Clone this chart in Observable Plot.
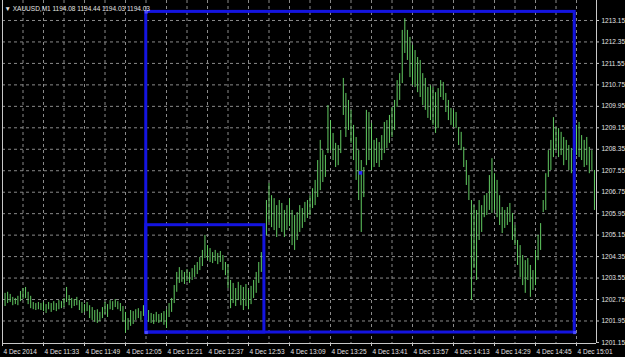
<!DOCTYPE html>
<html>
<head>
<meta charset="utf-8">
<script src="https://cdn.jsdelivr.net/npm/d3@7"></script>
<script src="https://cdn.jsdelivr.net/npm/@observablehq/plot@0.6"></script>
<style>
  html, body { margin: 0; padding: 0; background: #000; }
  svg { display: block; }
</style>
</head>
<body>
<div id="chart"></div>
<script>
// ---- data (XAUUSD, M1, 4 Dec 2014) ----
const headerText = "\u25BC XAUUSD,M1 1194.08 1194.44 1194.03 1194.03";
const startMinute = 677; // 11:17, minutes since midnight of the first bar

const highs = [
  1202.90, 1202.98, 1203.02, 1202.94, 1202.83, 1202.79, 1202.87, 1203.05, 1203.16, 1203.20,
  1203.02, 1202.87, 1202.64, 1202.60, 1202.64, 1202.60, 1202.64, 1202.56, 1202.64, 1202.60,
  1202.67, 1202.60, 1202.71, 1202.67, 1202.79, 1203.20, 1202.90, 1202.79, 1202.75, 1202.83,
  1202.71, 1202.64, 1202.56, 1202.64, 1202.52, 1202.45, 1202.34, 1202.37, 1202.27, 1202.45,
  1202.64, 1202.56, 1202.71, 1202.67, 1202.75, 1202.67, 1202.60, 1202.49, 1202.27, 1202.04,
  1202.34, 1202.30, 1202.37, 1202.41, 1202.30, 1202.52, 1202.60, 1202.34, 1202.23, 1202.19,
  1202.27, 1202.19, 1202.23, 1202.30, 1202.37, 1202.60, 1202.79, 1203.27, 1203.76, 1203.94,
  1203.83, 1203.76, 1203.87, 1203.76, 1203.90, 1204.02, 1204.13, 1204.32, 1204.58, 1205.14,
  1204.76, 1204.65, 1204.50, 1204.58, 1204.47, 1204.54, 1204.39, 1204.13, 1204.05, 1203.46,
  1203.35, 1203.16, 1203.39, 1203.27, 1203.20, 1203.31, 1203.09, 1203.24, 1203.46, 1203.76,
  1204.13, 1204.50, 1204.84, 1206.44, 1207.08, 1206.62, 1206.51, 1206.25, 1206.44, 1206.33,
  1206.07, 1206.25, 1206.51, 1206.07, 1205.88, 1205.99, 1206.25, 1206.14, 1206.37, 1206.44,
  1206.62, 1206.88, 1207.19, 1207.93, 1208.68, 1208.30, 1208.12, 1209.98, 1209.42, 1208.94,
  1208.57, 1208.49, 1209.05, 1210.99, 1210.43, 1210.17, 1209.80, 1209.24, 1208.79, 1208.30,
  1207.93, 1207.67, 1209.80, 1209.72, 1209.31, 1208.68, 1208.75, 1208.60, 1208.86, 1209.35,
  1209.42, 1209.61, 1209.91, 1210.17, 1210.91, 1211.17, 1212.78, 1213.22, 1212.78, 1212.52,
  1212.22, 1212.03, 1211.77, 1211.66, 1211.17, 1210.99, 1210.65, 1210.72, 1210.65, 1210.46,
  1210.61, 1210.91, 1210.84, 1210.43, 1210.17, 1209.87, 1209.80, 1209.72, 1209.16, 1208.98,
  1208.42, 1207.93, 1207.37, 1206.44, 1206.25, 1206.07, 1206.44, 1206.25, 1206.62, 1206.70,
  1207.37, 1208.00, 1207.44, 1207.19, 1206.62, 1206.18, 1206.07, 1206.18, 1206.33, 1205.96,
  1205.51, 1204.95, 1204.76, 1204.39, 1204.20, 1204.28, 1204.02, 1203.83, 1204.58, 1205.14,
  1205.58, 1206.44, 1207.44, 1208.30, 1208.68, 1209.53, 1209.16, 1209.12, 1208.98, 1208.79,
  1208.68, 1208.49, 1208.38, 1208.30, 1209.24, 1209.35, 1208.86, 1208.68, 1208.79, 1208.42,
  1208.30, 1207.56
];

const lows = [
  1202.45, 1202.49, 1202.60, 1202.64, 1202.52, 1202.56, 1202.52, 1202.67, 1202.75, 1202.79,
  1202.56, 1202.41, 1202.37, 1202.34, 1202.37, 1202.34, 1202.30, 1202.23, 1202.37, 1202.27,
  1202.34, 1202.30, 1202.37, 1202.41, 1202.45, 1202.64, 1202.52, 1202.41, 1202.49, 1202.52,
  1202.34, 1202.23, 1202.27, 1202.30, 1202.04, 1201.97, 1201.90, 1201.86, 1201.93, 1202.04,
  1202.19, 1202.08, 1202.37, 1202.34, 1202.45, 1202.37, 1202.30, 1201.90, 1201.49, 1201.60,
  1201.75, 1201.82, 1201.97, 1202.04, 1201.97, 1202.12, 1202.08, 1201.90, 1201.86, 1201.82,
  1201.90, 1201.86, 1201.90, 1201.79, 1201.67, 1202.08, 1202.27, 1202.60, 1203.02, 1203.35,
  1203.39, 1203.31, 1203.42, 1203.35, 1203.46, 1203.57, 1203.68, 1203.83, 1203.98, 1204.28,
  1204.20, 1204.13, 1204.09, 1204.17, 1204.05, 1204.13, 1203.83, 1203.64, 1203.16, 1202.41,
  1202.60, 1202.49, 1202.71, 1202.52, 1202.34, 1202.49, 1202.37, 1202.56, 1202.79, 1202.98,
  1203.35, 1203.76, 1203.98, 1205.13, 1205.62, 1205.43, 1205.32, 1205.06, 1205.40, 1205.25,
  1205.06, 1205.32, 1205.47, 1204.76, 1204.58, 1204.95, 1205.25, 1205.40, 1205.62, 1205.77,
  1205.88, 1206.14, 1206.25, 1206.55, 1206.81, 1207.11, 1207.30, 1208.19, 1208.30, 1207.93,
  1207.67, 1207.74, 1208.19, 1209.61, 1208.79, 1209.05, 1208.57, 1207.93, 1207.19, 1206.44,
  1205.25, 1206.55, 1207.74, 1207.93, 1207.56, 1207.67, 1207.82, 1207.67, 1207.93, 1208.19,
  1208.38, 1208.57, 1208.79, 1209.05, 1209.91, 1210.17, 1210.80, 1211.92, 1211.66, 1211.02,
  1210.72, 1210.65, 1210.46, 1210.28, 1209.98, 1209.80, 1209.50, 1209.42, 1209.24, 1208.94,
  1209.12, 1210.28, 1210.17, 1209.72, 1209.42, 1209.24, 1209.16, 1209.12, 1208.49, 1208.30,
  1207.67, 1207.00, 1206.44, 1202.71, 1203.91, 1203.46, 1204.95, 1205.25, 1205.80, 1205.88,
  1206.07, 1205.96, 1206.07, 1205.80, 1205.51, 1205.21, 1205.40, 1205.51, 1205.62, 1204.95,
  1204.76, 1204.02, 1203.57, 1203.27, 1202.98, 1203.46, 1202.83, 1203.09, 1203.27, 1204.20,
  1204.58, 1205.99, 1206.07, 1207.30, 1207.56, 1208.04, 1208.30, 1208.04, 1208.12, 1207.74,
  1207.93, 1207.56, 1207.44, 1207.37, 1208.12, 1208.04, 1207.93, 1207.67, 1207.74, 1207.44,
  1207.56, 1206.07
];

// x axis (minutes since midnight) and labels
const xTickMinutes = [677, 693, 709, 725, 741, 757, 773, 789, 805, 821, 837, 853, 869, 885, 901];
const xTickLabels = ["4 Dec 2014", "4 Dec 11:33", "4 Dec 11:49", "4 Dec 12:05", "4 Dec 12:21",
  "4 Dec 12:37", "4 Dec 12:53", "4 Dec 13:09", "4 Dec 13:25", "4 Dec 13:41", "4 Dec 13:57",
  "4 Dec 14:13", "4 Dec 14:29", "4 Dec 14:45", "4 Dec 15:01"];
const xGridMinutes = [685, 693, 701, 709, 717, 725, 733, 741, 749, 757, 765, 773, 781, 789, 797,
  805, 813, 821, 829, 837, 845, 853, 861, 869, 877, 885, 893, 901];

// y axis (price)
const yTickValues = [1213.15, 1212.35, 1211.55, 1210.75, 1209.95, 1209.15, 1208.35, 1207.55,
  1206.75, 1205.95, 1205.15, 1204.35, 1203.55, 1202.75, 1201.95, 1201.15];
const yTickLabels = ["1213.15", "1212.35", "1211.55", "1210.75", "1209.95", "1209.15", "1208.35",
  "1207.55", "1206.75", "1205.95", "1205.15", "1204.35", "1203.55", "1202.75", "1201.95", "1201.15"];

const xDomain = [677, 908.8];
const yDomain = [1201.111, 1213.895];

// drawn objects: rectangles (time in minutes, price)
const rectStart = [733.1, 733.1];
const rectEnd = [900.3, 779.2];
const rectTop = [1213.47, 1205.52];
const rectBottom = [1201.52, 1201.52];
// selected point / anchor handles
const pointMinutes = [816.7];
const pointPrices = [1207.47];
const handleMinutes = [733.1, 733.1, 900.3];
const handlePrices = [1213.47, 1201.52, 1201.52];

// ---- build tables ----
const bars = highs.map((h, i) => ({t: startMinute + i, high: h, low: lows[i]}));
const rects = rectStart.map((s, i) => ({x1: s, x2: rectEnd[i], y1: rectBottom[i], y2: rectTop[i]}));
const points = pointMinutes.map((t, i) => ({t, p: pointPrices[i]}));
const handles = handleMinutes.map((t, i) => ({t, p: handlePrices[i]}));
const xTicks = xTickMinutes.map((t, i) => ({t, label: xTickLabels[i]}));
const yTicks = yTickValues.map((v, i) => ({v, label: yTickLabels[i]}));

const W = 625, H = 357, mL = 2, mR = 29, mT = 0, mB = 14;
const gridColor = "#8a8a8a";
const axisColor = "#c8c8c8";
const textColor = "#e4e4e4";
const blue = "#1414e0";

const chart = Plot.plot({
  width: W, height: H,
  marginLeft: mL, marginRight: mR, marginTop: mT, marginBottom: mB,
  style: {background: "#000", color: textColor, fontFamily: "'Liberation Sans', Arial, sans-serif", fontSize: "6.5px"},
  x: {type: "linear", domain: xDomain, axis: null},
  y: {domain: yDomain, axis: null},
  marks: [
    // dashed grid
    Plot.ruleY(yTicks.filter(d => d.v > yDomain[0] + 0.1), {y: "v", stroke: gridColor, strokeWidth: 1, strokeDasharray: "3,3"}),
    Plot.ruleX(xGridMinutes, {stroke: gridColor, strokeWidth: 1, strokeDasharray: "3,3"}),
    // bars (high-low)
    Plot.ruleX(bars, {x: "t", y1: "low", y2: "high", stroke: "#62cc62", strokeWidth: 1}),
    // rectangles
    Plot.rect(rects, {x1: "x1", x2: "x2", y1: "y1", y2: "y2", fill: "none", stroke: blue, strokeWidth: 3}),
    Plot.dot(handles, {x: "t", y: "p", symbol: "square", r: 1.8, fill: "#4a4aff", stroke: "none"}),
    Plot.dot(points, {x: "t", y: "p", symbol: "square", r: 2, fill: "#2a2aff", stroke: "none"}),
    // frame: left, right, bottom
    Plot.ruleX([xDomain[0]], {stroke: axisColor, strokeWidth: 1}),
    Plot.ruleX([xDomain[1]], {stroke: axisColor, strokeWidth: 1}),
    Plot.ruleY([yDomain[0]], {stroke: axisColor, strokeWidth: 1}),
    // bottom ticks and labels
    Plot.ruleX(xTicks, {x: "t", stroke: axisColor, insetTop: H - mB - mT, insetBottom: -3}),
    Plot.text(xTicks, {x: "t", text: "label", frameAnchor: "bottom", textAnchor: "start", lineAnchor: "middle", dy: 8, dx: 1, fill: textColor}),
    // right ticks and labels
    Plot.ruleY(yTicks, {y: "v", stroke: axisColor, insetLeft: W - mL - mR, insetRight: -3}),
    Plot.text(yTicks, {y: "v", text: "label", frameAnchor: "right", textAnchor: "start", lineAnchor: "middle", dx: 5, fill: textColor}),
    // header
    Plot.text([headerText], {frameAnchor: "top-left", textAnchor: "start", lineAnchor: "middle", dx: 2, dy: 8, fill: textColor})
  ]
});

document.getElementById("chart").append(chart);
</script>
</body>
</html>
